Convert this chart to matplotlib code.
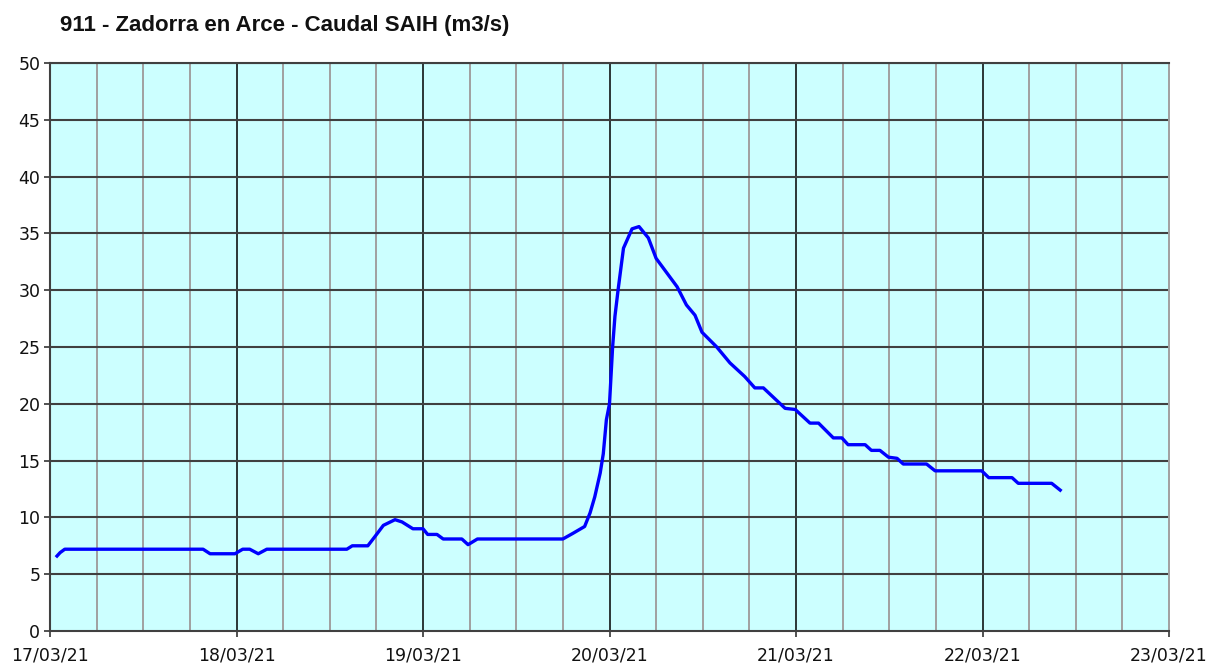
import matplotlib
matplotlib.use("Agg")
import matplotlib.pyplot as plt
import numpy as np

title = "911 - Zadorra en Arce - Caudal SAIH (m3/s)"
day_labels = ["17/03/21", "18/03/21", "19/03/21", "20/03/21", "21/03/21", "22/03/21", "23/03/21"]
y_ticks = [0, 5, 10, 15, 20, 25, 30, 35, 40, 45, 50]

# hours since 17/03/21 00:00
hours = [0.9, 1.3, 1.9, 19.7, 20.6, 23.8, 24.8, 25.7, 26.8, 27.9, 38.2, 38.9, 40.9,
         41.8, 42.9, 44.4, 45.3, 46.7, 48.0, 48.6, 49.8, 50.6, 53.0, 53.8, 55.0,
         66.0, 67.3, 68.8, 69.5, 70.1, 70.8, 71.2, 71.6, 72.0, 72.4, 72.7, 73.1,
         73.8, 74.9, 75.8, 77.0, 78.0, 80.7, 81.9, 83.0, 83.9, 85.8, 87.5, 89.4,
         90.7, 91.8, 94.6, 95.9, 97.8, 98.9, 100.8, 101.9, 102.7, 104.9, 105.7,
         106.8, 107.9, 109.0, 109.8, 112.8, 113.9, 119.9, 120.8, 123.8, 124.6,
         128.9, 130.0]
flow = [6.6, 6.9, 7.2, 7.2, 6.8, 6.8, 7.2, 7.2, 6.8, 7.2, 7.2, 7.5, 7.5,
        8.3, 9.3, 9.8, 9.6, 9.0, 9.0, 8.5, 8.5, 8.1, 8.1, 7.6, 8.1,
        8.1, 8.6, 9.2, 10.4, 11.8, 13.9, 15.6, 18.6, 20.0, 25.0, 27.7, 30.0,
        33.7, 35.4, 35.6, 34.6, 32.8, 30.3, 28.7, 27.8, 26.3, 25.0, 23.6, 22.4,
        21.4, 21.4, 19.6, 19.5, 18.3, 18.3, 17.0, 17.0, 16.4, 16.4, 15.9,
        15.9, 15.3, 15.2, 14.7, 14.7, 14.1, 14.1, 13.5, 13.5, 13.0,
        13.0, 12.4]

fig = plt.figure(figsize=(12.11, 6.66), dpi=100)
ax = fig.add_axes([50/1211, 1-631/666, (1169-50)/1211, (631-63)/666])
ax.set_facecolor("#ccffff")

days = np.array(hours) / 24.0
ax.set_xlim(0, 6)
ax.set_ylim(0, 50)

# minor vertical grid (6 h)
for m in np.arange(0.25, 6, 0.25):
    if abs(m - round(m)) > 1e-6:
        ax.axvline(m, color="#a0a0a0", lw=1.4, zorder=1)
for d in range(1, 6):
    ax.axvline(d, color="black", lw=1.1, zorder=1.5)
for yv in y_ticks[1:]:
    ax.axhline(yv, color="#404040", lw=1.5, zorder=1.6)

ax.plot(days, flow, color="#0000ff", lw=2.4, zorder=3, solid_joinstyle="round")

ax.set_xticks(range(7))
ax.set_xticklabels(day_labels, fontsize=12.5, family="DejaVu Sans")
ax.set_yticks(y_ticks)
ax.set_yticklabels([str(v) for v in y_ticks], fontsize=12.5, family="DejaVu Sans")
ax.tick_params(axis="both", direction="out", length=4, width=1.2, color="#333333",
               labelcolor="#111111")
ax.tick_params(axis="x", pad=7)
ax.tick_params(axis="y", pad=3)

for s in ["left", "bottom"]:
    ax.spines[s].set_color("#404040")
    ax.spines[s].set_linewidth(1.5)
ax.spines["top"].set_color("#404040")
ax.spines["top"].set_linewidth(1.5)
ax.spines["right"].set_color("#a0a0a0")
ax.spines["right"].set_linewidth(1.4)

fig.text(60/1211, 1-25/666, title, fontsize=16, fontweight="bold",
         family="Liberation Sans", va="center", ha="left", color="#111111")

fig.savefig("out.png", dpi=100, facecolor="white")
